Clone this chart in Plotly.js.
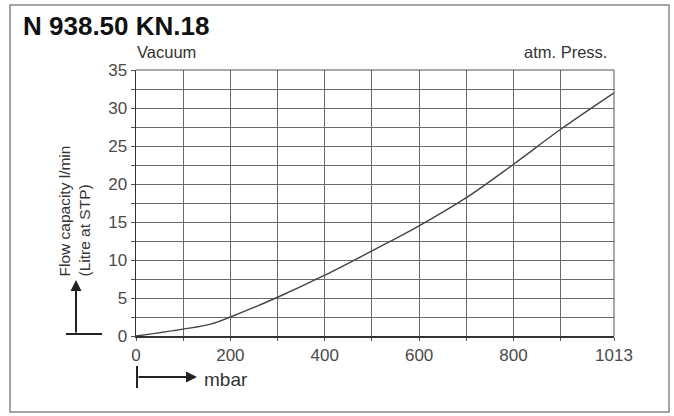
<!DOCTYPE html>
<html><head><meta charset="utf-8">
<script src="https://cdn.plot.ly/plotly-3.0.1.min.js"></script>
<style>html,body{margin:0;padding:0;background:#fff}#c{width:674px;height:416px}</style>
</head><body><div id="c"></div>
<script>
// Data
const pressureMbar = [0, 100, 160, 200, 300, 400, 500, 600, 700, 800, 900, 1013];
const flowLmin     = [0, 0.9, 1.6, 2.5, 5.1, 8.0, 11.2, 14.5, 18.2, 22.6, 27.2, 32.0];
const xTickVals = [0, 100, 200, 300, 400, 500, 600, 700, 800, 900, 1013];
const xTickText = ['0', '', '200', '', '400', '', '600', '', '800', '', '1013'];
const yTickVals = [0, 2.5, 5, 7.5, 10, 12.5, 15, 17.5, 20, 22.5, 25, 27.5, 30, 32.5, 35];
const yTickText = ['0', '', '5', '', '10', '', '15', '', '20', '', '25', '', '30', '', '35'];

const L = 136, R = 614, T = 70, B = 336, W = 674, H = 416;
const px = v => (v - L) / (R - L);
const py = v => (B - v) / (B - T);
const FONT = 'Liberation Sans, Arial, sans-serif';
const INK = '#222';

const trace = {
  x: pressureMbar, y: flowLmin, type: 'scatter', mode: 'lines',
  line: {color: '#444', width: 1.4, shape: 'spline', smoothing: 1},
  hoverinfo: 'skip', showlegend: false
};

const layout = {
  width: W, height: H,
  margin: {l: L, r: W - R, t: T, b: H - B},
  paper_bgcolor: '#fff', plot_bgcolor: '#fff',
  font: {family: FONT, color: '#444', size: 16},
  xaxis: {
    range: [0, 1013], tickvals: xTickVals, ticktext: xTickText,
    showgrid: true, gridcolor: '#6a6a6a', gridwidth: 1,
    showline: true, linecolor: '#333', linewidth: 1.5, mirror: false,
    ticks: 'outside', ticklen: 3, tickcolor: '#555',
    zeroline: false, fixedrange: true,
    tickfont: {family: FONT, size: 17, color: '#4a4a4a'}
  },
  yaxis: {
    range: [0, 35], tickvals: yTickVals, ticktext: yTickText,
    showgrid: true, gridcolor: '#6a6a6a', gridwidth: 1,
    showline: true, linecolor: '#333', linewidth: 1.5,
    ticks: 'outside', ticklen: 4, tickcolor: '#555',
    zeroline: false, fixedrange: true,
    tickfont: {family: FONT, size: 17, color: '#4a4a4a'}
  },
  shapes: [
    {type: 'rect', xref: 'paper', yref: 'paper', x0: px(10), x1: px(669), y0: py(412), y1: py(5),
     line: {color: '#888', width: 1.5}, fillcolor: 'rgba(0,0,0,0)', layer: 'below'},
    {type: 'line', xref: 'paper', yref: 'paper', x0: px(R), x1: px(R), y0: 0, y1: 1, line: {color: '#555', width: 1}},
    {type: 'line', xref: 'paper', yref: 'paper', x0: 0, x1: 1, y0: 1, y1: 1, line: {color: '#555', width: 1}},
    {type: 'line', xref: 'paper', yref: 'paper', x0: px(66), x1: px(102), y0: py(334), y1: py(334), line: {color: INK, width: 2}},
    {type: 'line', xref: 'paper', yref: 'paper', x0: px(137), x1: px(137), y0: py(366), y1: py(388), line: {color: INK, width: 2}}
  ],
  annotations: [
    {text: '<b>N 938.50 KN.18</b>', xref: 'paper', yref: 'paper', x: px(21), y: py(26), xanchor: 'left', yanchor: 'middle',
     showarrow: false, font: {family: FONT, size: 26, color: '#111'}},
    {text: 'Vacuum', xref: 'paper', yref: 'paper', x: px(135), y: py(52), xanchor: 'left', yanchor: 'middle',
     showarrow: false, font: {family: FONT, size: 16.5, color: '#333'}},
    {text: 'atm. Press.', xref: 'paper', yref: 'paper', x: px(609), y: py(52), xanchor: 'right', yanchor: 'middle',
     showarrow: false, font: {family: FONT, size: 16.5, color: '#333'}},
    {text: 'Flow capacity l/min<br>(Litre at STP)', xref: 'paper', yref: 'paper', x: px(74), y: py(279),
     xanchor: 'center', yanchor: 'bottom', textangle: -90, align: 'left',
     showarrow: false, font: {family: FONT, size: 15.5, color: '#333'}},
    {text: 'mbar', xref: 'paper', yref: 'paper', x: px(202), y: py(380), xanchor: 'left', yanchor: 'middle',
     showarrow: false, font: {family: FONT, size: 19, color: '#333'}},
    {text: '', xref: 'paper', yref: 'paper', x: px(76), y: py(280), axref: 'pixel', ayref: 'pixel', ax: 0, ay: 54,
     showarrow: true, arrowhead: 2, arrowsize: 1.1, arrowwidth: 2, arrowcolor: INK},
    {text: '', xref: 'paper', yref: 'paper', x: px(197), y: py(377), axref: 'pixel', ayref: 'pixel', ax: -60, ay: 0,
     showarrow: true, arrowhead: 2, arrowsize: 1.1, arrowwidth: 2, arrowcolor: INK}
  ]
};

Plotly.newPlot('c', [trace], layout, {staticPlot: true, displayModeBar: false});
</script></body></html>
